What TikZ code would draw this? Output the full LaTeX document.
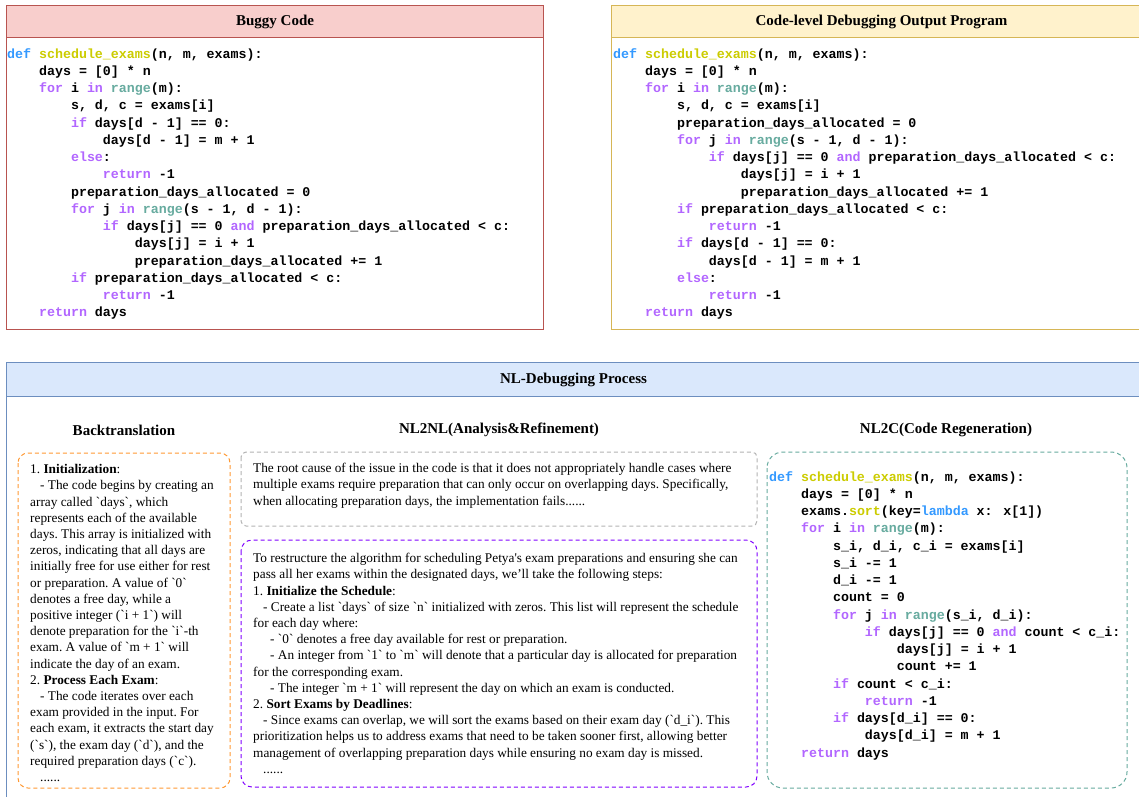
\documentclass[tikz,border=0pt]{standalone}
\usepackage{fontspec}
\setmainfont{Liberation Serif}
% body family without TeX ligatures, so ` and ' print as typed
\newfontfamily\bodyfont{Liberation Serif}
\newfontfamily\codefont{Liberation Mono}

% panel colours
\definecolor{redfill}{HTML}{F8CECC}
\definecolor{redline}{HTML}{B85450}
\definecolor{yelfill}{HTML}{FFF2CC}
\definecolor{yelline}{HTML}{D6B656}
\definecolor{bluefill}{HTML}{DAE8FC}
\definecolor{blueline}{HTML}{6C8EBF}
\definecolor{orangedash}{HTML}{FF9933}
\definecolor{graydash}{HTML}{B3B3B3}
\definecolor{purpledash}{HTML}{8000FF}
\definecolor{tealdash}{HTML}{67AB9F}
% syntax colours
\definecolor{kwdef}{HTML}{3399FF}
\definecolor{kwfn}{HTML}{CCCC00}
\definecolor{kwctl}{HTML}{B266FF}
\definecolor{kwbi}{HTML}{67AB9F}

\newcommand\cdef[1]{\textcolor{kwdef}{#1}}
\newcommand\cfn[1]{\textcolor{kwfn}{#1}}
\newcommand\ckw[1]{\textcolor{kwctl}{#1}}
\newcommand\cbi[1]{\textcolor{kwbi}{#1}}
\newcommand\ind[1]{\hspace*{#1\fontcharwd\font`x}}
\newcommand\sub{\hspace*{10pt}}
\newcommand\subsub{\hspace*{17pt}}

\tikzset{
  panel/.style={line width=1.1pt, minimum width=#1, anchor=north west, inner sep=0pt},
  headtitle/.style={font=\fontsize{15}{18}\selectfont\bfseries},
  subtitle/.style={font=\fontsize{15}{18}\selectfont\bfseries, inner sep=0pt},
  codetext/.style={font=\codefont\bfseries\fontsize{13.3}{17.25}\selectfont, align=left, anchor=north west, inner sep=0pt},
  bodytext/.style={font=\bodyfont\fontsize{13.3}{16.2}\selectfont\frenchspacing, align=left, anchor=north west, inner sep=0pt},
  dashbox/.style={line width=1pt, dash pattern=on 4pt off 3pt, anchor=north west, inner sep=0pt},
}

\begin{document}
\begin{tikzpicture}[x=1pt, y=-1pt]
\useasboundingbox (0,0) rectangle (1139,796);
\clip (0,0) rectangle (1139,796);

% ---------- Buggy Code ----------
\node[panel=537pt, minimum height=324pt, draw=redline, fill=white] (buggy) at (6,5) {};
\node[panel=537pt, minimum height=32pt, draw=redline, fill=redfill, headtitle] (buggyhead) at (6,5) {Buggy Code};
\node[codetext] (buggycode) at (7,45.9) {%
\strut\cdef{def} \cfn{schedule\_exams}(n, m, exams):\\
\ind{4}days = [0] * n\\
\ind{4}\ckw{for} i \ckw{in} \cbi{range}(m):\\
\ind{8}s, d, c = exams[i]\\
\ind{8}\ckw{if} days[d - 1] == 0:\\
\ind{12}days[d - 1] = m + 1\\
\ind{8}\ckw{else}:\\
\ind{12}\ckw{return} -1\\
\ind{8}preparation\_days\_allocated = 0\\
\ind{8}\ckw{for} j \ckw{in} \cbi{range}(s - 1, d - 1):\\
\ind{12}\ckw{if} days[j] == 0 \ckw{and} preparation\_days\_allocated < c:\\
\ind{16}days[j] = i + 1\\
\ind{16}preparation\_days\_allocated += 1\\
\ind{8}\ckw{if} preparation\_days\_allocated < c:\\
\ind{12}\ckw{return} -1\\
\ind{4}\ckw{return} days};

% ---------- Code-level Debugging Output Program ----------
\node[panel=540pt, minimum height=324pt, draw=yelline, fill=white] (fixed) at (611,5) {};
\node[panel=540pt, minimum height=32pt, draw=yelline, fill=yelfill, headtitle] (fixedhead) at (611,5) {Code-level Debugging Output Program};
\node[codetext] (fixedcode) at (613,45.9) {%
\strut\cdef{def} \cfn{schedule\_exams}(n, m, exams):\\
\ind{4}days = [0] * n\\
\ind{4}\ckw{for} i \ckw{in} \cbi{range}(m):\\
\ind{8}s, d, c = exams[i]\\
\ind{8}preparation\_days\_allocated = 0\\
\ind{8}\ckw{for} j \ckw{in} \cbi{range}(s - 1, d - 1):\\
\ind{12}\ckw{if} days[j] == 0 \ckw{and} preparation\_days\_allocated < c:\\
\ind{16}days[j] = i + 1\\
\ind{16}preparation\_days\_allocated += 1\\
\ind{8}\ckw{if} preparation\_days\_allocated < c:\\
\ind{12}\ckw{return} -1\\
\ind{8}\ckw{if} days[d - 1] == 0:\\
\ind{12}days[d - 1] = m + 1\\
\ind{8}\ckw{else}:\\
\ind{12}\ckw{return} -1\\
\ind{4}\ckw{return} days};

% ---------- NL-Debugging Process ----------
\node[panel=1134pt, minimum height=450pt, draw=blueline, fill=white] (nlproc) at (6,362) {};
\node[panel=1134pt, minimum height=34pt, draw=blueline, fill=bluefill, headtitle] (nlhead) at (6,362) {NL-Debugging Process};

\node[subtitle] (bttitle) at (124,430) {Backtranslation};
\node[subtitle] (nntitle) at (499,430) {NL2NL(Analysis\&Refinement)};
\node[subtitle] (nctitle) at (946,430) {NL2C(Code Regeneration)};

% Backtranslation
\draw[dashbox, draw=orangedash, rounded corners=10pt] (18,453) rectangle (230,788);
\node[bodytext] (bttext) at (30,462.2) {%
\strut 1. \textbf{Initialization}:\\
\sub- The code begins by creating an\\
array called `days`, which\\
represents each of the available\\
days. This array is initialized with\\
zeros, indicating that all days are\\
initially free for use either for rest\\
or preparation. A value of `0`\\
denotes a free day, while a\\
positive integer (`i + 1`) will\\
denote preparation for the `i`-th\\
exam. A value of `m + 1` will\\
indicate the day of an exam.\\
2. \textbf{Process Each Exam}:\\
\sub- The code iterates over each\\
exam provided in the input. For\\
each exam, it extracts the start day\\
(`s`), the exam day (`d`), and the\\
required preparation days (`c`).\\
\sub......};

% NL2NL: analysis
\draw[dashbox, draw=graydash, rounded corners=5pt] (241,452) rectangle (757,526);
\node[bodytext] (nnanalysis) at (253,461.2) {%
\strut The root cause of the issue in the code is that it does not appropriately handle cases where\\
multiple exams require preparation that can only occur on overlapping days. Specifically,\\
when allocating preparation days, the implementation fails......};

% NL2NL: refinement
\draw[dashbox, draw=purpledash, rounded corners=11pt] (241,540) rectangle (757,787);
\node[bodytext] (nnrefine) at (253,551.2) {%
\strut To restructure the algorithm for scheduling Petya's exam preparations and ensuring she can\\
pass all her exams within the designated days, we’ll take the following steps:\\
1. \textbf{Initialize the Schedule}:\\
\sub- Create a list `days` of size `n` initialized with zeros. This list will represent the schedule\\
for each day where:\\
\subsub- `0` denotes a free day available for rest or preparation.\\
\subsub- An integer from `1` to `m` will denote that a particular day is allocated for preparation\\
for the corresponding exam.\\
\subsub- The integer `m + 1` will represent the day on which an exam is conducted.\\
2. \textbf{Sort Exams by Deadlines}:\\
\sub- Since exams can overlap, we will sort the exams based on their exam day (`d\_i`). This\\
prioritization helps us to address exams that need to be taken sooner first, allowing better\\
management of overlapping preparation days while ensuring no exam day is missed.\\
\sub......};

% NL2C: regenerated code
\draw[dashbox, draw=tealdash, rounded corners=16pt] (767,452) rectangle (1127,788);
\node[codetext] (nccode) at (769,468.9) {%
\strut\cdef{def} \cfn{schedule\_exams}(n, m, exams):\\
\ind{4}days = [0] * n\\
\ind{4}exams.\cfn{sort}(key=\cdef{lambda} x: x[1])\\
\ind{4}\ckw{for} i \ckw{in} \cbi{range}(m):\\
\ind{8}s\_i, d\_i, c\_i = exams[i]\\
\ind{8}s\_i -= 1\\
\ind{8}d\_i -= 1\\
\ind{8}count = 0\\
\ind{8}\ckw{for} j \ckw{in} \cbi{range}(s\_i, d\_i):\\
\ind{12}\ckw{if} days[j] == 0 \ckw{and} count < c\_i:\\
\ind{16}days[j] = i + 1\\
\ind{16}count += 1\\
\ind{8}\ckw{if} count < c\_i:\\
\ind{12}\ckw{return} -1\\
\ind{8}\ckw{if} days[d\_i] == 0:\\
\ind{12}days[d\_i] = m + 1\\
\ind{4}\ckw{return} days};
\end{tikzpicture}
\end{document}
